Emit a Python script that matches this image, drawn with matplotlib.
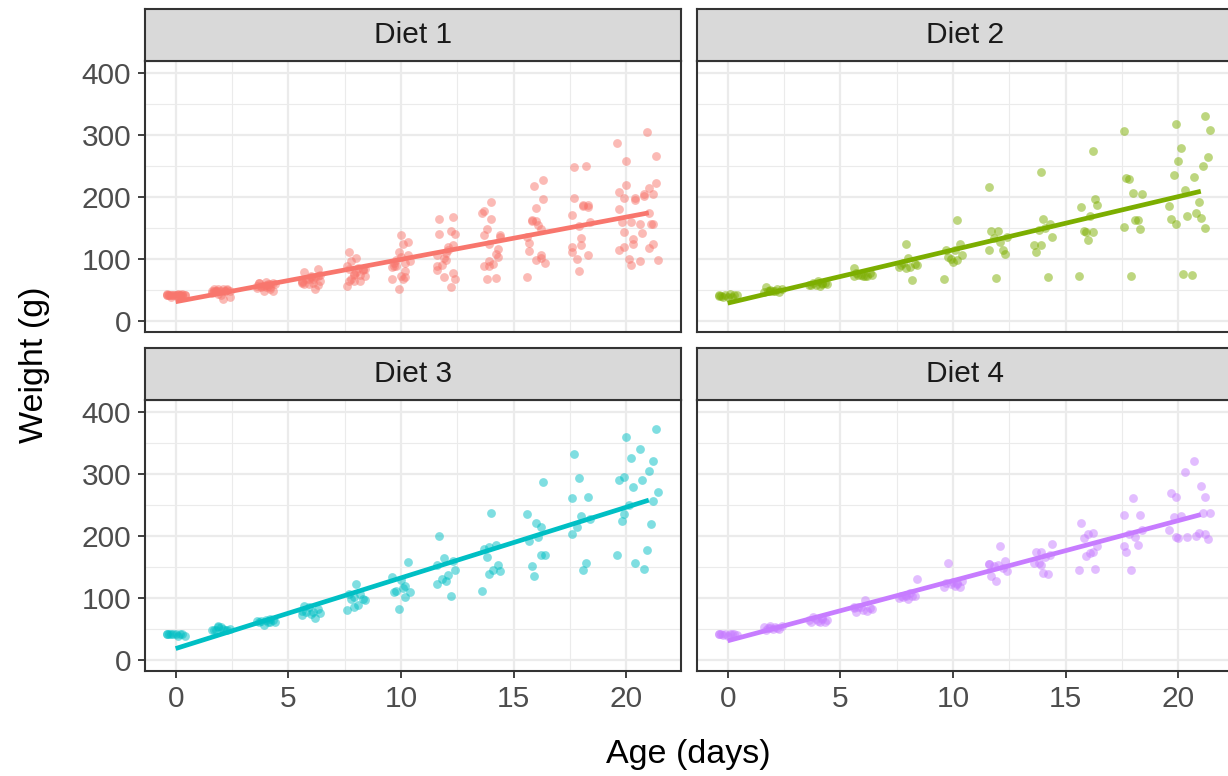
#!/usr/bin/env python3
import numpy as np
import matplotlib.pyplot as plt

plt.rcParams['font.family'] = ['Liberation Sans', 'DejaVu Sans']

times = [0, 2, 4, 6, 8, 10, 12, 14, 16, 18, 20, 21]

# ChickWeight: weights per chick, grouped by diet (shorter lists = chick dropped out)
diet1 = [
    [42, 51, 59, 64, 76, 93, 106, 125, 149, 171, 199, 205],
    [40, 49, 58, 72, 84, 103, 122, 138, 162, 187, 209, 215],
    [43, 39, 55, 67, 84, 99, 115, 138, 163, 187, 198, 202],
    [42, 49, 56, 67, 74, 87, 102, 108, 136, 154, 160, 157],
    [41, 42, 48, 60, 79, 106, 141, 164, 197, 199, 220, 223],
    [41, 49, 59, 74, 97, 124, 141, 148, 155, 160, 160, 157],
    [41, 49, 57, 71, 89, 112, 146, 174, 218, 250, 288, 305],
    [42, 50, 61, 71, 84, 93, 110, 116, 126, 134, 125],
    [42, 51, 59, 68, 85, 96, 90, 92, 93, 100, 100, 98],
    [41, 44, 52, 63, 74, 81, 89, 96, 101, 112, 120, 124],
    [43, 51, 63, 84, 112, 139, 168, 177, 182, 184, 181, 175],
    [41, 49, 56, 62, 72, 88, 119, 135, 162, 185, 195, 205],
    [41, 48, 53, 60, 65, 67, 71, 70, 71, 81, 91, 96],
    [41, 49, 62, 79, 101, 128, 164, 192, 227, 248, 259, 266],
    [41, 49, 56, 64, 68, 68, 67, 68],
    [41, 45, 49, 51, 57, 51, 54],
    [42, 51, 61, 72, 83, 89, 98, 103, 113, 123, 133, 142],
    [39, 35],
    [43, 48, 55, 62, 65, 71, 82, 88, 106, 120, 144, 157],
    [41, 47, 54, 58, 65, 73, 77, 89, 98, 107, 115, 117],
]
diet2 = [
    [40, 50, 62, 86, 125, 163, 217, 240, 275, 307, 318, 331],
    [41, 55, 64, 77, 90, 95, 108, 111, 131, 148, 164, 167],
    [43, 52, 61, 73, 90, 103, 127, 135, 145, 163, 170, 175],
    [42, 52, 58, 74, 66, 68, 70, 71, 72, 72, 76, 74],
    [40, 49, 62, 78, 102, 124, 146, 164, 197, 231, 259, 265],
    [42, 48, 57, 74, 93, 114, 136, 147, 169, 205, 236, 251],
    [39, 46, 58, 73, 87, 100, 115, 123, 144, 163, 185, 192],
    [39, 46, 58, 73, 92, 114, 145, 156, 184, 207, 212, 233],
    [39, 48, 59, 74, 87, 106, 134, 150, 187, 230, 279, 309],
    [42, 48, 59, 72, 85, 98, 115, 122, 143, 151, 157, 150],
]
diet3 = [
    [42, 53, 62, 73, 85, 102, 123, 138, 170, 204, 235, 256],
    [41, 49, 65, 82, 107, 129, 159, 179, 221, 263, 291, 305],
    [39, 50, 63, 77, 96, 111, 137, 144, 151, 146, 156, 147],
    [41, 49, 63, 85, 107, 134, 164, 186, 235, 294, 327, 341],
    [41, 53, 64, 87, 123, 158, 201, 238, 287, 332, 361, 373],
    [39, 48, 61, 76, 98, 116, 145, 166, 198, 227, 225, 220],
    [41, 48, 56, 68, 80, 83, 103, 112, 135, 157, 169, 178],
    [41, 49, 61, 74, 98, 109, 128, 154, 192, 232, 280, 290],
    [42, 50, 61, 78, 89, 109, 130, 146, 170, 214, 250, 272],
    [41, 55, 66, 79, 101, 120, 154, 182, 215, 262, 295, 321],
]
diet4 = [
    [42, 51, 66, 85, 103, 124, 155, 153, 175, 184, 199, 204],
    [42, 49, 63, 84, 103, 126, 160, 174, 204, 234, 269, 281],
    [42, 55, 69, 96, 131, 157, 184, 188, 197, 198, 199, 200],
    [42, 51, 65, 86, 103, 118, 127, 138, 145, 146],
    [41, 50, 61, 78, 98, 117, 135, 141, 147, 174, 197, 196],
    [40, 52, 62, 82, 101, 120, 144, 156, 173, 210, 231, 238],
    [41, 53, 66, 79, 100, 123, 148, 157, 168, 185, 210, 205],
    [39, 50, 62, 80, 104, 125, 154, 170, 222, 261, 303, 322],
    [40, 53, 64, 85, 108, 128, 152, 166, 184, 203, 233, 237],
    [41, 54, 67, 84, 105, 122, 155, 175, 205, 234, 264, 264],
]

diets = [diet1, diet2, diet3, diet4]
titles = ["Diet 1", "Diet 2", "Diet 3", "Diet 4"]
colors = ["#F8766D", "#7CAE00", "#00BFC4", "#C77CFF"]

W, H = 1228, 776
fig = plt.figure(figsize=(W / 100, H / 100), dpi=100)

# panel boxes in pixels
lefts = [145, 697]
panel_w = 536
strip_tops = [9, 348]
strip_h = 52
panel_h = 271

for i, (chicks, title, col) in enumerate(zip(diets, titles, colors)):
    r, c = divmod(i, 2)
    x0 = lefts[c]
    st = strip_tops[r]
    pt = st + strip_h
    ax = fig.add_axes([x0 / W, 1 - (pt + panel_h) / H, panel_w / W, panel_h / H])
    sax = fig.add_axes([x0 / W, 1 - pt / H, panel_w / W, strip_h / H])

    # strip
    sax.set_facecolor("#D9D9D9")
    sax.set_xticks([])
    sax.set_yticks([])
    for s in sax.spines.values():
        s.set_color("#333333")
        s.set_linewidth(1.5)
    sax.text(0.5, 0.5, title, ha="center", va="center", fontsize=21.5,
             color="#1A1A1A", transform=sax.transAxes)

    # points with small fixed horizontal jitter
    xs, ys = [], []
    for k, w in enumerate(chicks):
        for j, v in enumerate(w):
            off = (((k * 7 + j * 3) % 9) - 4) / 10.0
            xs.append(times[j] + off)
            ys.append(v)
    ax.scatter(xs, ys, s=40, color=col, alpha=0.5, linewidths=0, zorder=3)

    # linear fit
    tt = np.concatenate([times[:len(w)] for w in chicks])
    vv = np.concatenate([w for w in chicks])
    b, a = np.polyfit(tt, vv, 1)
    xl = np.array([0, 21])
    ax.plot(xl, a + b * xl, color=col, lw=3.4, solid_capstyle="butt", zorder=4)

    ax.set_xlim(-1.36, 22.43)
    ax.set_ylim(-18, 420)
    ax.set_xticks([0, 5, 10, 15, 20])
    ax.set_xticks([2.5, 7.5, 12.5, 17.5], minor=True)
    ax.set_yticks([0, 100, 200, 300, 400])
    ax.set_yticks([50, 150, 250, 350], minor=True)
    ax.grid(True, which="major", color="#EBEBEB", lw=1.6, zorder=0)
    ax.grid(True, which="minor", color="#EBEBEB", lw=0.8, zorder=0)
    ax.set_axisbelow(True)
    for s in ax.spines.values():
        s.set_color("#333333")
        s.set_linewidth(1.5)
    ax.tick_params(which="minor", length=0)
    ax.tick_params(which="major", length=5, width=1.3, color="#333333",
                   labelsize=21.5, labelcolor="#4D4D4D", pad=5)
    if c == 1:
        ax.tick_params(axis="y", which="major", length=0, labelleft=False)
    if r == 0:
        ax.tick_params(axis="x", which="major", length=0, labelbottom=False)

fig.text(35 / W, 1 - 365 / H, "Weight (g)", rotation=90, ha="center",
         va="center", fontsize=24.5, color="black")
fig.text(688 / W, 1 - 755 / H, "Age (days)", ha="center", va="center",
         fontsize=24.5, color="black")

fig.savefig("out.png", dpi=100)
